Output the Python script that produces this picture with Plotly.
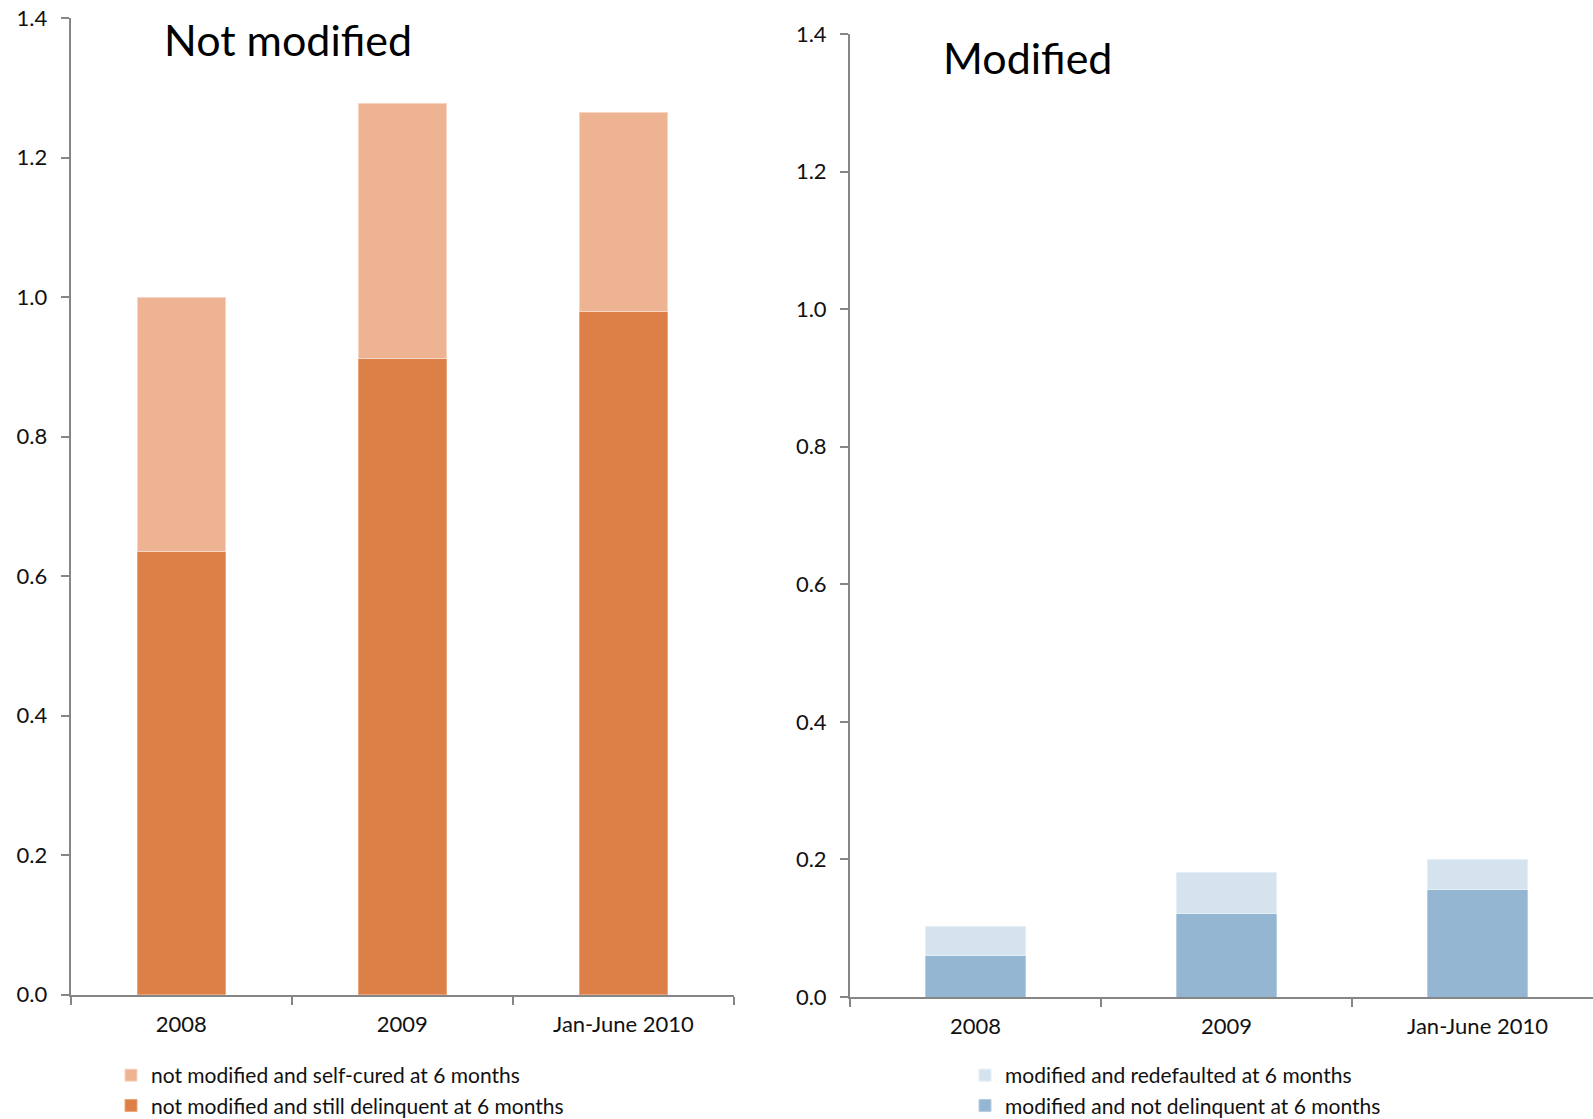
import plotly.graph_objects as go

# Periods shown on both panels
periods = ["2008", "2009", "Jan-June 2010"]

# Not modified loans (millions)
not_mod_still_delinquent = [0.635, 0.912, 0.980]
not_mod_self_cured = [0.365, 0.366, 0.285]

# Modified loans (millions)
mod_not_delinquent = [0.060, 0.122, 0.156]
mod_redefaulted = [0.043, 0.059, 0.044]

y_ticks = [0.0, 0.2, 0.4, 0.6, 0.8, 1.0, 1.2, 1.4]

FONT = "Lato, 'Open Sans', sans-serif"
AXIS_GREY = "#868686"

fig = go.Figure()

fig.add_trace(go.Bar(
    x=periods, y=not_mod_still_delinquent,
    name="not modified and still delinquent at 6 months",
    marker=dict(color="#DD8047", line=dict(color="#E9A57C", width=1)),
    width=0.4, xaxis="x", yaxis="y", legend="legend",
))
fig.add_trace(go.Bar(
    x=periods, y=not_mod_self_cured,
    name="not modified and self-cured at 6 months",
    marker=dict(color="#EDB393", line=dict(color="#F6D6C3", width=1)),
    width=0.4, xaxis="x", yaxis="y", legend="legend",
))
fig.add_trace(go.Bar(
    x=periods, y=mod_not_delinquent,
    name="modified and not delinquent at 6 months",
    marker=dict(color="#95B6D2", line=dict(color="#B7CDE0", width=1)),
    width=0.4, xaxis="x2", yaxis="y2", legend="legend2",
))
fig.add_trace(go.Bar(
    x=periods, y=mod_redefaulted,
    name="modified and redefaulted at 6 months",
    marker=dict(color="#D5E3EE", line=dict(color="#E6EEF5", width=1)),
    width=0.4, xaxis="x2", yaxis="y2", legend="legend2",
))

W, H = 1593, 1119

xaxis_common = dict(
    type="category", showline=True, linecolor=AXIS_GREY, linewidth=2,
    ticks="outside", tickson="boundaries", ticklen=8, tickwidth=2,
    tickcolor=AXIS_GREY, showgrid=False, zeroline=False, automargin=False,
    tickfont=dict(family=FONT, size=22, color="#111"),
    ticklabelstandoff=9, fixedrange=True,
)
yaxis_common = dict(
    range=[0, 1.4], tickvals=y_ticks, tickformat=".1f",
    showline=True, linecolor=AXIS_GREY, linewidth=2,
    ticks="outside", ticklen=8, tickwidth=2, tickcolor=AXIS_GREY,
    showgrid=False, zeroline=False, automargin=False,
    tickfont=dict(family=FONT, size=22, color="#111"),
    ticklabelstandoff=9, fixedrange=True,
)

legend_common = dict(
    font=dict(family=FONT, size=21, color="#111"),
    traceorder="reversed", bgcolor="rgba(0,0,0,0)",
    xanchor="left", yanchor="top", orientation="v",
    xref="container", yref="container",
)

fig.update_layout(
    width=W, height=H, autosize=False,
    margin=dict(l=0, r=0, t=0, b=0, autoexpand=False),
    paper_bgcolor="white", plot_bgcolor="white",
    barmode="stack", bargap=0.6,
    xaxis=dict(domain=[70.7 / W, 734 / W], range=[-0.5, 2.5], **xaxis_common),
    yaxis=dict(domain=[(H - 994.7) / H, (H - 18.3) / H], **yaxis_common),
    xaxis2=dict(domain=[850 / W, 1.0], range=[-0.5, -0.5 + 743 / 251],
                anchor="y2", **xaxis_common),
    yaxis2=dict(domain=[(H - 997) / H, (H - 34) / H], anchor="x2",
                **yaxis_common),
    legend=dict(x=111 / W, y=(H - 1055) / H, **legend_common),
    legend2=dict(x=965 / W, y=(H - 1055) / H, **legend_common),
    annotations=[
        dict(text="Not modified", xref="paper", yref="paper",
             x=162 / W, y=(H - 40) / H, xanchor="left", yanchor="middle",
             showarrow=False, font=dict(family=FONT, size=43, color="black")),
        dict(text="Modified", xref="paper", yref="paper",
             x=941 / W, y=(H - 57) / H, xanchor="left", yanchor="middle",
             showarrow=False, font=dict(family=FONT, size=43, color="black")),
    ],
)

fig.write_html("out.html", config={"displayModeBar": False})
